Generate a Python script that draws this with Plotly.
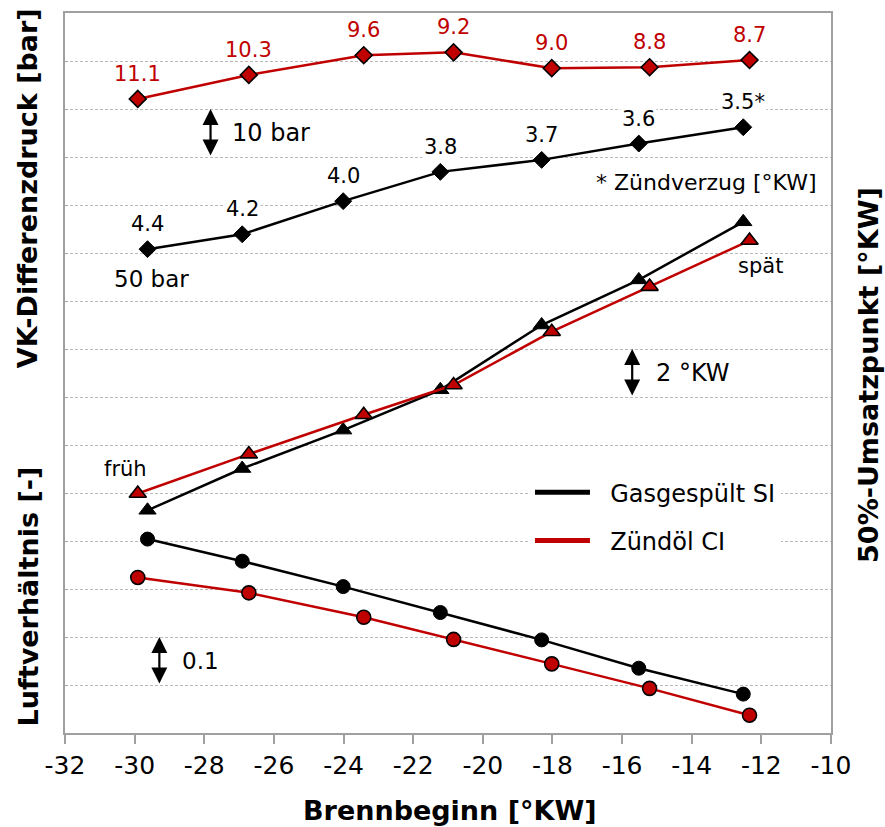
import plotly.graph_objects as go

# ---- data ----
x_si = [-29.63, -26.91, -24.01, -21.22, -18.31, -15.52, -12.52]
x_ci = [-29.91, -26.72, -23.42, -20.84, -18.02, -15.21, -12.34]

# VK-Differenzdruck (plotted on a scaled, hidden axis)
vk_si = [10.08, 10.39, 11.08, 11.69, 11.94, 12.28, 12.62]
vk_ci = [13.21, 13.71, 14.12, 14.18, 13.85, 13.87, 14.02]
lab_si = ["4.4", "4.2", "4.0", "3.8", "3.7", "3.6", "3.5*"]
lab_ci = ["11.1", "10.3", "9.6", "9.2", "9.0", "8.8", "8.7"]

# 50%-Umsatzpunkt
u50_si = [4.64, 5.51, 6.31, 7.15, 8.50, 9.44, 10.65]
u50_ci = [4.99, 5.81, 6.63, 7.25, 8.36, 9.30, 10.26]

# Luftverhältnis
lam_si = [4.04, 3.58, 3.05, 2.51, 1.94, 1.35, 0.81]
lam_ci = [3.24, 2.92, 2.41, 1.95, 1.44, 0.93, 0.37]

x_ticks = list(range(-32, -9, 2))

BLACK = "#000000"
RED = "#C00000"
FONT = "Verdana, DejaVu Sans, sans-serif"

fig = go.Figure()

def add_series(x, y, color, symbol, size, outline):
    fig.add_trace(go.Scatter(
        x=x, y=y, mode="lines+markers", showlegend=False,
        line=dict(color=color, width=2.5),
        marker=dict(symbol=symbol, size=size, color=color,
                    line=dict(color=BLACK, width=outline)),
        cliponaxis=False,
    ))

add_series(x_si, vk_si, BLACK, "diamond", 13, 1)
add_series(x_ci, vk_ci, RED, "diamond", 13, 1.6)
add_series(x_si, u50_si, BLACK, "triangle-up", 15, 1)
add_series(x_ci, u50_ci, RED, "triangle-up", 15, 1.6)
add_series(x_si, lam_si, BLACK, "circle", 14, 1)
add_series(x_ci, lam_ci, RED, "circle", 14, 1.6)

# legend entries
fig.add_trace(go.Scatter(x=[None], y=[None], mode="lines", name="\u00a0\u00a0Gasgespült SI",
                         line=dict(color=BLACK, width=5), legendgroup="a"))
fig.add_trace(go.Scatter(x=[None], y=[None], mode="lines", name="\u00a0\u00a0Zündöl CI",
                         line=dict(color=RED, width=5), legendgroup="b"))

ann = []
# data labels
for xv, yv, t in zip(x_si, vk_si, lab_si):
    ann.append(dict(x=xv, y=yv, text=t, showarrow=False, yshift=25,
                    bgcolor="white", font=dict(size=21, color=BLACK)))
for xv, yv, t in zip(x_ci, vk_ci, lab_ci):
    ann.append(dict(x=xv, y=yv, text=t, showarrow=False, yshift=25,
                    font=dict(size=21, color=RED)))

# scale arrows
for xa, y0, y1 in [(-27.82, 12, 13), (-15.71, 7, 8), (-29.29, 1, 2)]:
    ann.append(dict(x=xa, y=y1, ax=xa, ay=y0, axref="x", ayref="y",
                    text="", showarrow=True, arrowside="end+start",
                    arrowhead=2, startarrowhead=2, arrowsize=1.45,
                    startarrowsize=1.45, arrowwidth=2.2, arrowcolor=BLACK))

# text notes
notes = [
    ("10 bar", -27.25, 12.5, "left", 24),
    ("2 °KW", -15.07, 7.5, "left", 24),
    ("0.1", -28.7, 1.5, "left", 23),
    ("50 bar", -30.66, 9.46, "left", 23),
    ("früh", -30.25, 5.5, "center", 21),
    ("spät", -12.03, 9.72, "center", 21),
    ("* Zündverzug [°KW]", -10.34, 11.46, "right", 22),
]
for t, xv, yv, xa, fs in notes:
    ann.append(dict(x=xv, y=yv, text=t, showarrow=False, xanchor=xa,
                    bgcolor="white" if t.startswith("*") else None,
                    font=dict(size=fs, color=BLACK)))

# axis titles
TF = dict(size=27, color=BLACK, family="Verdana, DejaVu Sans, sans-serif")
for txt, xp, yp, ang in [
    ("<b>VK-Differenzdruck [bar]</b>", -0.048, 0.757, -90),
    ("<b>Luftverhältnis [-]</b>", -0.048, 0.19, -90),
    ("<b>50%-Umsatzpunkt [°KW]</b>", 1.048, 0.497, -90),
    ("<b>Brennbeginn [°KW]</b>", 0.5026, -0.107, 0),
]:
    ann.append(dict(xref="paper", yref="paper", x=xp, y=yp, textangle=ang,
                    xanchor="center", yanchor="middle",
                    text=txt, showarrow=False, font=TF))

fig.update_layout(
    width=885, height=827,
    margin=dict(l=65, r=54, t=13, b=94),
    paper_bgcolor="white", plot_bgcolor="white",
    font=dict(family=FONT, color=BLACK),
    annotations=ann,
    showlegend=True,
    legend=dict(x=0.607, y=0.365, xanchor="left", yanchor="top",
                bgcolor="white", font=dict(size=24, color=BLACK),
                tracegroupgap=14, itemwidth=55),
    xaxis=dict(range=[-32, -10], tickvals=x_ticks, ticktext=[str(v) for v in x_ticks],
               ticks="outside", ticklen=9, tickwidth=2, tickcolor="#A0A0A0",
               showline=True, linecolor="#A0A0A0", linewidth=2, mirror=True,
               showgrid=False, zeroline=False, tickfont=dict(size=25, color=BLACK)),
    yaxis=dict(range=[0, 15], dtick=1, showticklabels=False,
               ticks="inside", ticklen=3, tickcolor="#A0A0A0",
               showgrid=True, gridcolor="#B8B8B8", gridwidth=1, griddash="3px,2px",
               showline=True, linecolor="#A0A0A0", linewidth=2, mirror=True,
               zeroline=False),
)

fig.write_html("out.html")
